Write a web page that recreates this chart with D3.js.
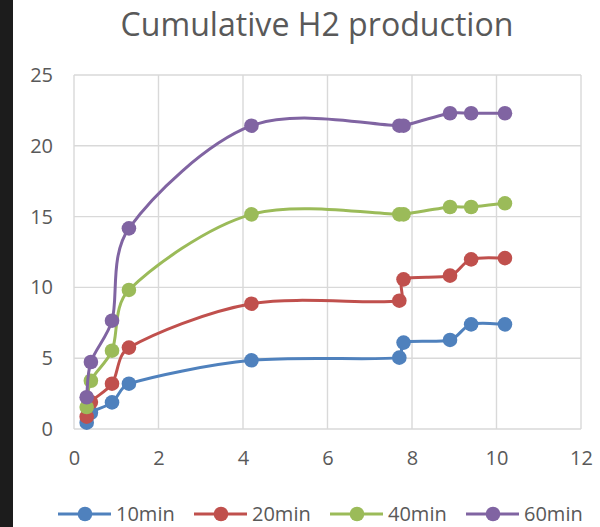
<!DOCTYPE html>
<html>
<head>
<meta charset="utf-8">
<script src="https://cdn.jsdelivr.net/npm/d3@7"></script>
<style>
html,body{margin:0;padding:0;background:#fff;}
svg{display:block;}
text{font-family:"Open Sans",sans-serif;fill:#595959;}
</style>
</head>
<body>
<svg id="chart" width="600" height="527"></svg>
<script>
const title = "Cumulative H2 production";
const xValues = [0.3, 0.4, 0.9, 1.3, 4.2, 7.7, 7.8, 8.9, 9.4, 10.2];
const seriesNames = ["10min", "20min", "40min", "60min"];
const values10 = [0.45, 1.15, 1.88, 3.2, 4.85, 5.04, 6.1, 6.29, 7.39, 7.39];
const values20 = [0.87, 1.9, 3.2, 5.75, 8.85, 9.06, 10.57, 10.83, 11.98, 12.07];
const values40 = [1.55, 3.41, 5.53, 9.82, 15.16, 15.16, 15.16, 15.68, 15.68, 15.94];
const values60 = [2.24, 4.73, 7.65, 14.17, 21.42, 21.42, 21.42, 22.3, 22.3, 22.3];
const colors = ["#4f81bd", "#c0504d", "#9bbb59", "#8064a2"];
const xTicks = [0, 2, 4, 6, 8, 10, 12];
const yTicks = [0, 5, 10, 15, 20, 25];

const series = [values10, values20, values40, values60].map((v, i) => ({
  name: seriesNames[i], color: colors[i],
  points: xValues.map((x, j) => ({x, y: v[j]}))
}));

// Excel-like smoothing: Catmull-Rom tangents, clamped on short segments
function ExcelSmooth(context) { this._context = context; }
ExcelSmooth.prototype = {
  areaStart() { this._line = 0; },
  areaEnd() { this._line = NaN; },
  lineStart() { this._px = []; this._py = []; },
  point(x, y) { this._px.push(+x); this._py.push(+y); },
  lineEnd() {
    const X = this._px, Y = this._py, n = X.length, c = this._context;
    if (!n) return;
    c.moveTo(X[0], Y[0]);
    if (n === 1) return;
    const TX = [], TY = [];
    for (let i = 0; i < n; i++) {
      const p = Math.max(0, i - 1), q = Math.min(n - 1, i + 1);
      TX.push((X[q] - X[p]) / 6); TY.push((Y[q] - Y[p]) / 6);
    }
    const lim = (tx, ty, L) => {
      const m = Math.hypot(tx, ty), maxL = L * 0.35;
      if (m > maxL && m > 0) { const s = maxL / m; return [tx * s, ty * s]; }
      return [tx, ty];
    };
    for (let i = 0; i < n - 1; i++) {
      const L = Math.hypot(X[i + 1] - X[i], Y[i + 1] - Y[i]);
      const [ax, ay] = lim(TX[i], TY[i], L);
      const [bx, by] = lim(TX[i + 1], TY[i + 1], L);
      c.bezierCurveTo(X[i] + ax, Y[i] + ay, X[i + 1] - bx, Y[i + 1] - by, X[i + 1], Y[i + 1]);
    }
  }
};
const curveExcel = ctx => new ExcelSmooth(ctx);

const svg = d3.select("#chart");
// dark strip on the left
svg.append("rect").attr("x", 0).attr("y", 0).attr("width", 13).attr("height", 527).attr("fill", "#1c1c1c");

const plot = {left: 74, right: 581, top: 75, bottom: 429};
const x = d3.scaleLinear().domain([0, 12]).range([plot.left, plot.right]);
const y = d3.scaleLinear().domain([0, 25]).range([plot.bottom, plot.top]);

// title
const t = svg.append("text").attr("x", 317).attr("y", 36).attr("text-anchor", "middle")
  .style("font-size", "33px").text(title);
const tw = t.node().getComputedTextLength();
if (Math.abs(tw - 393) > 4) t.attr("textLength", 393).attr("lengthAdjust", "spacingAndGlyphs");

// gridlines
const grid = svg.append("g");
grid.selectAll(".hg").data(yTicks).join("line")
  .attr("x1", plot.left).attr("x2", plot.right)
  .attr("y1", d => y(d)).attr("y2", d => y(d))
  .attr("stroke", "#d9d9d9").attr("stroke-width", 1.4);
grid.selectAll(".vg").data(xTicks).join("line")
  .attr("y1", plot.top).attr("y2", plot.bottom)
  .attr("x1", d => x(d)).attr("x2", d => x(d))
  .attr("stroke", "#d9d9d9").attr("stroke-width", 1.4);

// axes labels via d3 axes
const yAxis = svg.append("g").attr("transform", `translate(${plot.left},0)`)
  .call(d3.axisLeft(y).tickValues(yTicks).tickSize(0).tickPadding(21));
const xAxis = svg.append("g").attr("transform", `translate(0,${plot.bottom})`)
  .call(d3.axisBottom(x).tickValues(xTicks).tickSize(0).tickPadding(22));
[yAxis, xAxis].forEach(a => {
  a.select(".domain").remove();
  a.selectAll("text").style("font-size", "20px").style("font-family", "'Open Sans',sans-serif").attr("fill", "#595959");
});

// series
const line = d3.line().x(d => x(d.x)).y(d => y(d.y)).curve(curveExcel);
series.forEach(s => {
  const g = svg.append("g");
  g.append("path").attr("d", line(s.points)).attr("fill", "none")
    .attr("stroke", s.color).attr("stroke-width", 3).attr("stroke-linejoin", "round");
  g.selectAll("circle").data(s.points).join("circle")
    .attr("cx", d => x(d.x)).attr("cy", d => y(d.y)).attr("r", 7.3).attr("fill", s.color);
});

// legend
const legendX = [58, 194, 330, 466];
const leg = svg.append("g");
series.forEach((s, i) => {
  const lx = legendX[i], ly = 514;
  leg.append("line").attr("x1", lx).attr("x2", lx + 53).attr("y1", ly).attr("y2", ly)
    .attr("stroke", s.color).attr("stroke-width", 3);
  leg.append("circle").attr("cx", lx + 27).attr("cy", ly).attr("r", 7.3).attr("fill", s.color);
  leg.append("text").attr("x", lx + 58).attr("y", ly + 7).style("font-size", "20px").text(s.name);
});
</script>
</body>
</html>
